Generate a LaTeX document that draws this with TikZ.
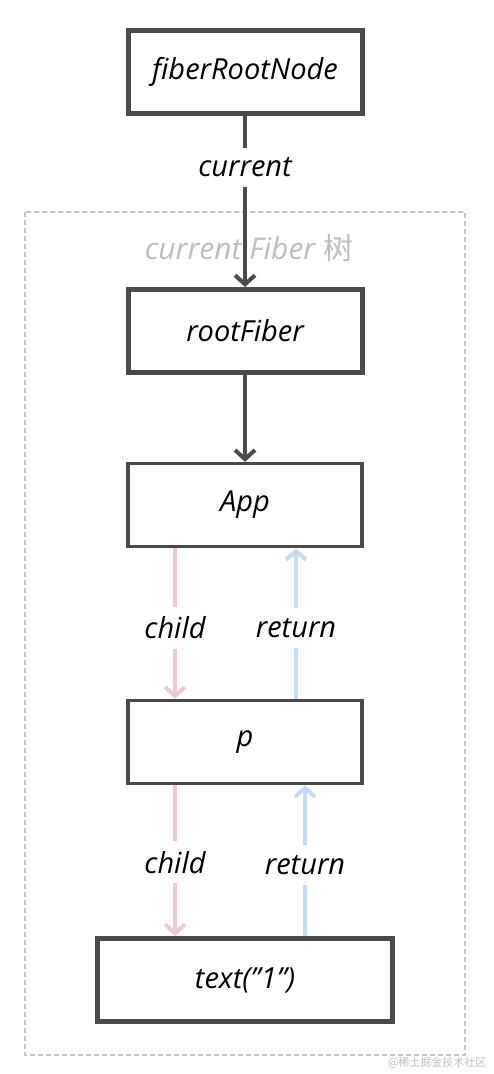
\documentclass[tikz,border=0pt]{standalone}
\usepackage{fontspec}
\setmainfont{Open Sans}
\newfontfamily\cjkfont{Noto Sans CJK SC}
\usetikzlibrary{positioning, arrows.meta}
\definecolor{boxgray}{HTML}{4A4A4A}
\definecolor{childpink}{HTML}{EEC8CD}
\definecolor{returnblue}{HTML}{C4DBF0}
\definecolor{framegray}{HTML}{C4C4C4}
\definecolor{titlegray}{HTML}{BDBDBD}

\begin{document}
\begin{tikzpicture}[
    x=1pt, y=-1pt,
    box/.style={rectangle, draw=boxgray, line width=5pt, minimum width=234pt, minimum height=83pt,
        align=center, font=\fontsize{29}{33}\selectfont\itshape},
    thinbox/.style={box, line width=3.5pt},
    arrow/.style={-{Straight Barb[length=9pt,width=20pt]}, line width=4pt, draw=boxgray},
    childarrow/.style={arrow, draw=childpink},
    returnarrow/.style={arrow, draw=returnblue},
    lbl/.style={fill=white, inner xsep=2pt, inner ysep=10pt, font=\fontsize{29}{33}\selectfont\itshape}
]
\useasboundingbox (0,0) rectangle (494,1074);

% Rahmen
\draw[framegray, line width=2pt, dash pattern=on 5pt off 3pt] (25,212) rectangle (465,1055);
\node[text=titlegray, font=\fontsize{30}{34}\selectfont\itshape] (title) at (249,248) {current Fiber {\cjkfont 树}};

% Knoten
\node[box] (root) at (245,72) {fiberRootNode};
\node[box] (rootfiber) at (245,331) {rootFiber};
\node[thinbox] (app) at (245,505) {App};
\node[thinbox] (p) at (245,742) {p};
\node[box, minimum width=295pt] (text) at (245,980) {text("1")};

% Pfeile
\draw[arrow] (root) -- node[lbl, pos=0.3] {current} (rootfiber);
\draw[arrow] (rootfiber) -- (app);
\draw[childarrow] ([xshift=-70pt]app.south) -- node[lbl, pos=0.53, text=black] {child} ([xshift=-70pt]p.north);
\draw[returnarrow] ([xshift=51pt]p.north) -- node[lbl, pos=0.47, text=black] {return} ([xshift=51pt]app.south);
\draw[childarrow] ([xshift=-70pt]p.south) -- node[lbl, pos=0.51, text=black] {child} ([xshift=-70pt]text.north);
\draw[returnarrow] ([xshift=60pt]text.north) -- node[lbl, pos=0.47, text=black] {return} ([xshift=60pt]p.south);

% Wasserzeichen
\node[text=titlegray, font=\cjkfont\fontsize{11}{13}\selectfont, anchor=east] (mark) at (490,1063) {@稀土掘金技术社区};
\end{tikzpicture}
\end{document}
